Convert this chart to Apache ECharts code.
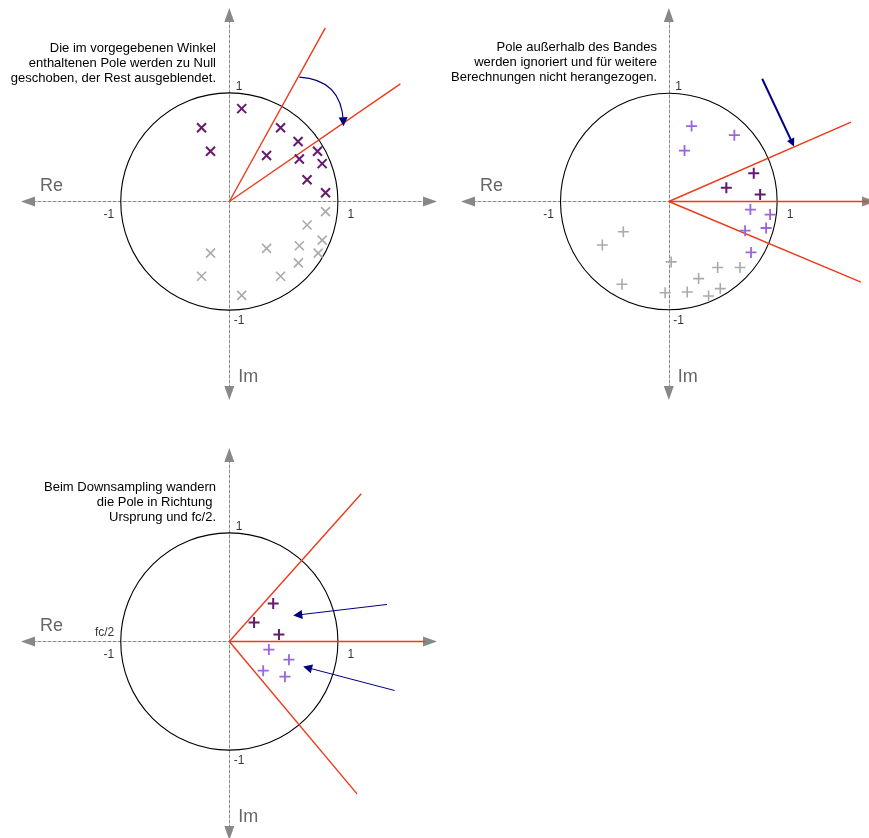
<!DOCTYPE html>
<html>
<head>
<meta charset="utf-8">
<script src="https://cdn.jsdelivr.net/npm/echarts@6/dist/echarts.min.js"></script>
<style>html,body{margin:0;padding:0;background:#fff}#c{width:869px;height:838px}</style>
</head>
<body>
<div id="c"></div>
<script>
// ---------- data ----------
const unitCircle = [[0, 0, 1]];
const tickPos = [[0, 1], [1, 0], [-1, 0], [0, -1]];
const tickText = ['1', '1', '-1', '-1'];
const extraLabelText = 'fc/2';
const axisNames = ['Re', 'Im'];

// panel 1 (top-left)
const p1Shown = [[0.114,0.855],[-0.256,0.679],[-0.173,0.463],[0.472,0.679],[0.633,0.552],[0.343,0.423],[0.645,0.392],[0.812,0.463],[0.855,0.349],[0.716,0.201],[0.886,0.080]];
const p1Hidden = [[0.886,-0.093],[0.716,-0.216],[0.855,-0.355],[0.645,-0.407],[0.818,-0.475],[0.343,-0.432],[0.636,-0.565],[0.472,-0.688],[-0.173,-0.475],[-0.256,-0.688],[0.114,-0.864]];
const p1Rays = [[[0,0],[0.884,1.599]], [[0,0],[1.575,1.083]]];
const p1Arrows = [[[0.645,1.145],[1.050,0.735]]];
const p1Note = ['Die im vorgegebenen Winkel', 'enthaltenen Pole werden zu Null', 'geschoben, der Rest ausgeblendet.'];

// panel 2 (top-right)
const p2Outside = [[0.210,0.694],[0.605,0.611],[0.145,0.469],[0.753,-0.074],[0.935,-0.120],[0.704,-0.269],[0.898,-0.244],[0.759,-0.469]];
const p2Inside = [[0.784,0.259],[0.531,0.127],[0.843,0.065]];
const p2Hidden = [[-0.420,-0.278],[-0.614,-0.401],[-0.432,-0.762],[0.022,-0.556],[-0.034,-0.840],[0.170,-0.833],[0.275,-0.710],[0.451,-0.608],[0.657,-0.608],[0.367,-0.870],[0.475,-0.802]];
const p2Rays = [[[0,0],[1.682,0.730]], [[0,0],[1.774,-0.743]], [[0,0],[1.84,0]]];
const p2Arrows = [[[0.862,1.130],[1.140,0.540]]];
const p2Note = ['Pole außerhalb des Bandes', 'werden ignoriert und für weitere', 'Berechnungen nicht herangezogen.'];

// panel 3 (bottom-left)
const p3Inside = [[0.404,0.349],[0.228,0.176],[0.457,0.065]];
const p3Outside = [[0.364,-0.074],[0.549,-0.167],[0.312,-0.269],[0.512,-0.324]];
const p3Rays = [[[0,0],[1.215,1.360]], [[0,0],[1.176,-1.403]], [[0,0],[1.80,0]]];
const p3Arrows = [[[1.452,0.341],[0.630,0.244]], [[1.522,-0.451],[0.720,-0.241]]];
const p3Note = ['Beim Downsampling wandern', 'die Pole in Richtung ', 'Ursprung und fc/2.'];

// ---------- styling / layout ----------
const FONT = 'Liberation Sans, Arial, sans-serif';
const RED = '#ee3a1a', NAVY = '#000080', DARK = '#661a6e', LIGHT = '#9966dd', GREY = '#aaaaaa', AXIS = '#888888';
const X_SYM = 'path://M0,0L10,10M10,0L0,10';
const P_SYM = 'path://M5,0L5,10M0,5L10,5';
const origins = [[28, 15], [468, 15], [28, 455]];
const GW = 402, GH = 378;
const XMIN = -1.854, XMAX = 1.848, YMIN = -1.763, YMAX = 1.717;

const grid = origins.map(o => ({ left: o[0], top: o[1], width: GW, height: GH, containLabel: false }));
const xAxis = origins.map((o, i) => ({
  gridIndex: i, type: 'value', min: XMIN, max: XMAX,
  axisLine: { show: true, onZero: true, symbol: ['triangle', 'triangle'], symbolSize: [10, 14],
    lineStyle: { color: AXIS, width: 1, type: [3, 2] } },
  axisTick: { show: false }, axisLabel: { show: false }, splitLine: { show: false },
  name: axisNames[0], nameLocation: 'start', nameGap: -12,
  nameTextStyle: { fontSize: 18, color: '#666', fontFamily: FONT, align: 'left', verticalAlign: 'bottom', padding: [0, 0, 6, 0] }
}));
const yAxis = origins.map((o, i) => ({
  gridIndex: i, type: 'value', min: YMIN, max: YMAX,
  axisLine: { show: true, onZero: true, symbol: ['triangle', 'triangle'], symbolSize: [10, 14],
    lineStyle: { color: AXIS, width: 1, type: [3, 2] } },
  axisTick: { show: false }, axisLabel: { show: false }, splitLine: { show: false },
  name: axisNames[1], nameLocation: 'start', nameGap: -7,
  nameTextStyle: { fontSize: 18, color: '#666', fontFamily: FONT, align: 'left', verticalAlign: 'bottom', padding: [0, 0, 0, 9] }
}));

const series = [];
function circle(i) {
  series.push({
    type: 'custom', xAxisIndex: i, yAxisIndex: i, data: unitCircle, silent: true, z: 2,
    renderItem: (params, api) => {
      const c = api.coord([api.value(0), api.value(1)]);
      const r = api.size([api.value(2), 0])[0];
      return { type: 'circle', shape: { cx: c[0], cy: c[1], r: r }, style: { fill: 'none', stroke: '#000', lineWidth: 1.1 } };
    }
  });
}
const tickLayouts = [
  { position: [7, 0], align: 'left', verticalAlign: 'bottom' },
  { position: [10, 8], align: 'left', verticalAlign: 'top' },
  { position: [-6, 8], align: 'right', verticalAlign: 'top' },
  { position: [5, 5], align: 'left', verticalAlign: 'top' }
];
function ticks(i, withFc) {
  const data = tickPos.map((p, k) => ({ value: p, label: Object.assign({ formatter: tickText[k] }, tickLayouts[k]) }));
  if (withFc) data.push({ value: tickPos[2], label: { formatter: extraLabelText, position: [-6, -2], align: 'right', verticalAlign: 'bottom' } });
  series.push({
    type: 'scatter', xAxisIndex: i, yAxisIndex: i, data: data, symbolSize: 1, silent: true, z: 4,
    itemStyle: { color: 'transparent' },
    label: { show: true, color: '#000', fontSize: 12, fontFamily: FONT }
  });
}
function rays(i, d) {
  series.push({
    type: 'lines', coordinateSystem: 'cartesian2d', xAxisIndex: i, yAxisIndex: i, silent: true, z: 3,
    data: d.map(c => ({ coords: c })), symbol: 'none',
    lineStyle: { color: RED, width: 1.4, opacity: 1 }
  });
}
function arrows(i, d, w, size, curv) {
  series.push({
    type: 'lines', coordinateSystem: 'cartesian2d', xAxisIndex: i, yAxisIndex: i, silent: true, z: 6,
    data: d.map(c => ({ coords: c })), symbol: ['none', 'triangle'], symbolSize: size,
    lineStyle: { color: NAVY, width: w, opacity: 1, curveness: curv || 0 }
  });
}
function marks(i, d, sym, size, color, bw) {
  series.push({
    type: 'scatter', xAxisIndex: i, yAxisIndex: i, data: d, symbol: sym, symbolSize: size, silent: true, z: 5,
    itemStyle: { color: 'transparent', borderColor: color, borderWidth: bw, opacity: 1 }
  });
}

// panel 1
circle(0); ticks(0, false); rays(0, p1Rays);
marks(0, p1Shown, X_SYM, 9, DARK, 2);
marks(0, p1Hidden, X_SYM, 9, GREY, 1.6);
arrows(0, p1Arrows, 1.1, 9, 0.45);
// panel 2
circle(1); ticks(1, false); rays(1, p2Rays);
marks(1, p2Outside, P_SYM, 11, LIGHT, 1.8);
marks(1, p2Inside, P_SYM, 11, DARK, 2);
marks(1, p2Hidden, P_SYM, 11, GREY, 1.6);
arrows(1, p2Arrows, 2, 8, 0);
// panel 3
circle(2); ticks(2, true); rays(2, p3Rays);
marks(2, p3Inside, P_SYM, 11, DARK, 2);
marks(2, p3Outside, P_SYM, 11, LIGHT, 1.8);
arrows(2, p3Arrows, 1, 9, 0);

const noteStyle = { fontSize: 13, fontWeight: 'normal', color: '#000', lineHeight: 15, fontFamily: FONT };
const title = [
  { text: p1Note.join('\n'), left: 216, top: 41, textAlign: 'right', padding: 0, textStyle: noteStyle },
  { text: p2Note.join('\n'), left: 657, top: 40, textAlign: 'right', padding: 0, textStyle: noteStyle },
  { text: p3Note.join('\n'), left: 216, top: 480, textAlign: 'right', padding: 0, textStyle: noteStyle }
];

const chart = echarts.init(document.getElementById('c'), null, { renderer: 'canvas' });
chart.setOption({ animation: false, backgroundColor: '#fff', title, grid, xAxis, yAxis, series });
</script>
</body>
</html>
